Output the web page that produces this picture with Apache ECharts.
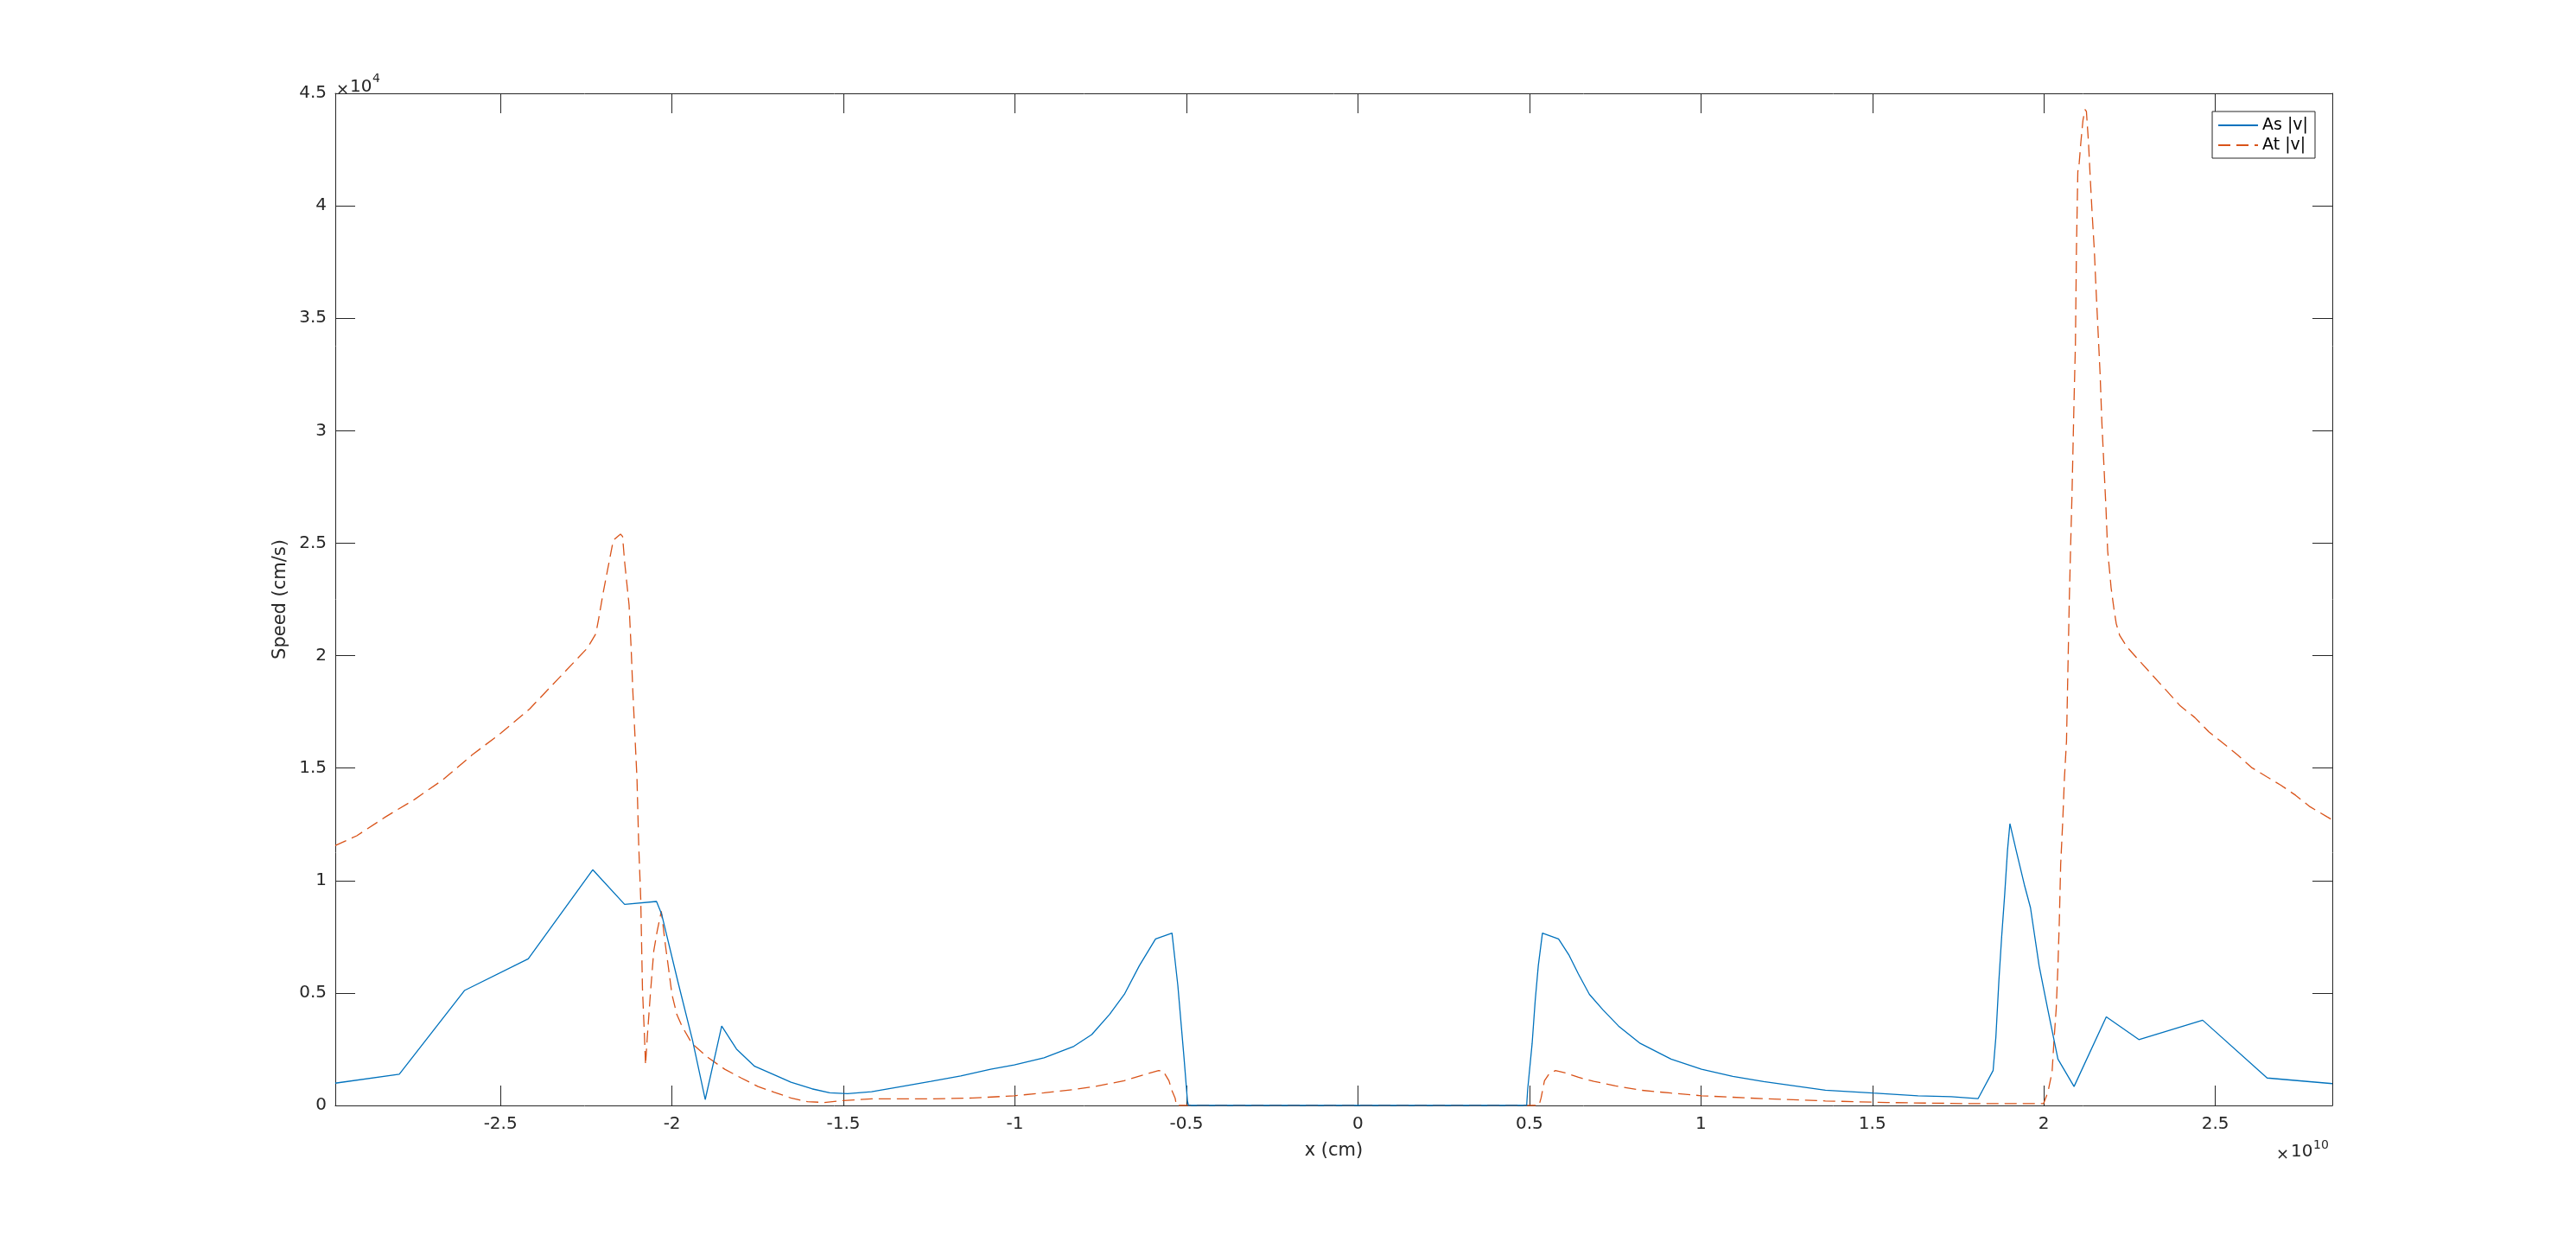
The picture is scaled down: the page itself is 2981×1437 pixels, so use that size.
<!DOCTYPE html>
<html><head><meta charset="utf-8">
<script src="https://cdn.jsdelivr.net/npm/echarts@6/dist/echarts.min.js"></script>
<style>html,body{margin:0;padding:0;background:#fff}#c{width:2981px;height:1437px}</style>
</head><body><div id="c"></div>
<script>
// As |v| : x (cm), speed (cm/s)
const asX = [-2.982e10,-2.795e10,-2.605e10,-2.419e10,-2.231e10,-2.138e10,-2.045e10,-2.030e10,-1.981e10,-1.940e10,-1.903e10,-1.855e10,-1.812e10,-1.759e10,-1.700e10,-1.653e10,-1.592e10,-1.540e10,-1.488e10,-1.418e10,-1.331e10,-1.245e10,-1.158e10,-1.071e10,-1.002e10,-0.915e10,-0.828e10,-0.776e10,-0.724e10,-0.681e10,-0.637e10,-0.590e10,-0.542e10,-0.525e10,-0.507e10,-0.497e10,-0.494e10,0.492e10,0.495e10,0.508e10,0.517e10,0.526e10,0.538e10,0.585e10,0.616e10,0.643e10,0.675e10,0.715e10,0.760e10,0.823e10,0.913e10,1.002e10,1.093e10,1.183e10,1.273e10,1.363e10,1.501e10,1.633e10,1.730e10,1.808e10,1.852e10,1.860e10,1.869e10,1.877e10,1.886e10,1.894e10,1.901e10,1.919e10,1.943e10,1.961e10,1.986e10,2.011e10,2.041e10,2.088e10,2.182e10,2.277e10,2.463e10,2.651e10,2.841e10];
const asV = [990,1390,5110,6520,10480,8940,9070,8500,5400,2900,260,3530,2510,1740,1350,1030,740,560,520,610,840,1070,1310,1610,1800,2120,2630,3150,4050,4940,6220,7400,7660,5330,2120,200,0,0,710,2760,4680,6220,7660,7400,6670,5840,4940,4240,3530,2760,2060,1610,1290,1060,870,680,550,430,390,300,1550,3020,5580,7510,9430,11350,12530,11350,9820,8790,6220,4300,2060,840,3940,2930,3790,1220,970];
// At |v|
const atX = [-2.982e10,-2.919e10,-2.835e10,-2.751e10,-2.667e10,-2.583e10,-2.499e10,-2.415e10,-2.331e10,-2.247e10,-2.222e10,-2.214e10,-2.201e10,-2.188e10,-2.171e10,-2.150e10,-2.144e10,-2.138e10,-2.125e10,-2.119e10,-2.114e10,-2.108e10,-2.102e10,-2.097e10,-2.091e10,-2.086e10,-2.080e10,-2.077e10,-2.072e10,-2.063e10,-2.053e10,-2.043e10,-2.031e10,-2.019e10,-2.010e10,-2.000e10,-1.986e10,-1.971e10,-1.942e10,-1.894e10,-1.846e10,-1.798e10,-1.749e10,-1.701e10,-1.653e10,-1.605e10,-1.557e10,-1.500e10,-1.418e10,-1.245e10,-1.123e10,-1.002e10,-0.915e10,-0.828e10,-0.768e10,-0.681e10,-0.620e10,-0.581e10,-0.568e10,-0.551e10,-0.542e10,-0.533e10,-0.529e10,0.528e10,0.534e10,0.544e10,0.558e10,0.576e10,0.607e10,0.643e10,0.688e10,0.751e10,0.823e10,0.913e10,1.002e10,1.183e10,1.363e10,1.543e10,1.784e10,1.999e10,2.012e10,2.024e10,2.030e10,2.036e10,2.041e10,2.045e10,2.049e10,2.055e10,2.060e10,2.066e10,2.070e10,2.074e10,2.078e10,2.082e10,2.085e10,2.088e10,2.092e10,2.095e10,2.099e10,2.103e10,2.108e10,2.114e10,2.120e10,2.124e10,2.130e10,2.135e10,2.141e10,2.147e10,2.152e10,2.158e10,2.164e10,2.169e10,2.175e10,2.181e10,2.186e10,2.192e10,2.196e10,2.204e10,2.211e10,2.221e10,2.242e10,2.272e10,2.314e10,2.356e10,2.398e10,2.440e10,2.481e10,2.523e10,2.565e10,2.607e10,2.649e10,2.691e10,2.734e10,2.776e10,2.826e10,2.841e10];
const atV = [11550,11990,12830,13600,14490,15580,16550,17630,18980,20330,20970,21610,22760,23790,25130,25400,25300,24170,22250,20330,18400,16480,14560,11610,9170,5200,3020,1800,3020,4940,6870,7760,8630,7120,6100,4940,4050,3530,2760,2120,1610,1220,840,580,330,170,130,220,290,290,330,430,560,710,840,1100,1380,1550,1530,1100,650,330,0,0,330,1100,1420,1550,1440,1250,1070,870,680,550,430,300,200,130,80,80,600,1500,3000,4300,6200,8150,10710,12630,14560,16200,19310,22360,24850,27150,29250,31360,33850,38060,41510,41900,42850,43800,44280,44200,42850,41310,39590,38060,36330,34420,32510,30400,28490,26580,24660,23700,23020,22120,21420,20900,20390,19880,19170,18470,17760,17250,16610,16100,15580,15010,14620,14240,13790,13280,12830,12700];
const xTickVals = [-2.5e10,-2e10,-1.5e10,-1e10,-0.5e10,0,0.5e10,1e10,1.5e10,2e10,2.5e10];
const xMin = -2.9816e10, xMax = 2.841e10;
const yMin = 0, yMax = 45000, yStep = 5000;
const seriesNames = ['As |v|', 'At |v|'];

const FONT = 'DejaVu Sans';
const AX = '#262626';
const chart = echarts.init(document.getElementById('c'), null, {renderer: 'canvas'});
const pairs = (xs, vs) => xs.map((x, i) => [x, vs[i]]);
const tick = {show: true, inside: true, length: 23, lineStyle: {color: AX, width: 1}};
const line = {show: true, onZero: false, lineStyle: {color: AX, width: 1}};
chart.setOption({
  animation: false,
  backgroundColor: '#fff',
  grid: {left: 388, right: 282, top: 108, bottom: 158, containLabel: false},
  xAxis: [{
    type: 'value', min: xMin, max: xMax, position: 'bottom',
    axisLine: line, axisTick: Object.assign({customValues: xTickVals}, tick),
    splitLine: {show: false},
    axisLabel: {customValues: xTickVals, margin: 12, color: AX, fontFamily: FONT, fontSize: 20,
      formatter: v => String(Math.round(v / 1e9) / 10)},
    name: 'x (cm)', nameLocation: 'middle', nameGap: 42,
    nameTextStyle: {color: AX, fontFamily: FONT, fontSize: 21}
  }, {
    type: 'value', min: xMin, max: xMax, position: 'top',
    axisLine: line, axisTick: Object.assign({customValues: xTickVals}, tick),
    splitLine: {show: false}, axisLabel: {show: false}
  }],
  yAxis: [{
    type: 'value', min: yMin, max: yMax, interval: yStep, position: 'left',
    axisLine: line, axisTick: tick, splitLine: {show: false},
    axisLabel: {margin: 10, color: AX, fontFamily: FONT, fontSize: 20,
      formatter: v => String(v / 10000)},
    name: 'Speed (cm/s)', nameLocation: 'middle', nameGap: 45, nameRotate: 90,
    nameTextStyle: {color: AX, fontFamily: FONT, fontSize: 21}
  }, {
    type: 'value', min: yMin, max: yMax, interval: yStep, position: 'right',
    axisLine: line, axisTick: tick, splitLine: {show: false}, axisLabel: {show: false}
  }],
  legend: {
    orient: 'vertical', right: 302, top: 129,
    backgroundColor: '#fff', borderColor: AX, borderWidth: 1,
    padding: [6, 8, 5, 6], itemGap: 3, itemWidth: 46, itemHeight: 14,
    itemStyle: {opacity: 0, borderWidth: 0},
    textStyle: {color: '#000', fontFamily: FONT, fontSize: 19, lineHeight: 20},
    data: seriesNames
  },
  series: [{
    name: seriesNames[0], type: 'line', data: pairs(asX, asV),
    symbol: 'none', showSymbol: false, z: 3,
    lineStyle: {color: '#0072BD', width: 1.3}, itemStyle: {color: '#0072BD'}
  }, {
    name: seriesNames[1], type: 'line', data: pairs(atX, atV),
    symbol: 'none', showSymbol: false, z: 2,
    lineStyle: {color: '#D95319', width: 1.3, type: [14, 7]}, itemStyle: {color: '#D95319'}
  }],
  graphic: [
    {type: 'text', left: 389, top: 95, style: {text: '×', fill: AX, font: '18px "DejaVu Sans"'}},
    {type: 'text', left: 405, top: 91, style: {text: '10', fill: AX, font: '20px "DejaVu Sans"'}},
    {type: 'text', left: 431, top: 84, style: {text: '4', fill: AX, font: '14px "DejaVu Sans"'}},
    {type: 'text', left: 2634, top: 1327, style: {text: '×', fill: AX, font: '18px "DejaVu Sans"'}},
    {type: 'text', left: 2651, top: 1323, style: {text: '10', fill: AX, font: '20px "DejaVu Sans"'}},
    {type: 'text', left: 2677, top: 1318, style: {text: '10', fill: AX, font: '14px "DejaVu Sans"'}}
  ]
});
</script></body></html>
